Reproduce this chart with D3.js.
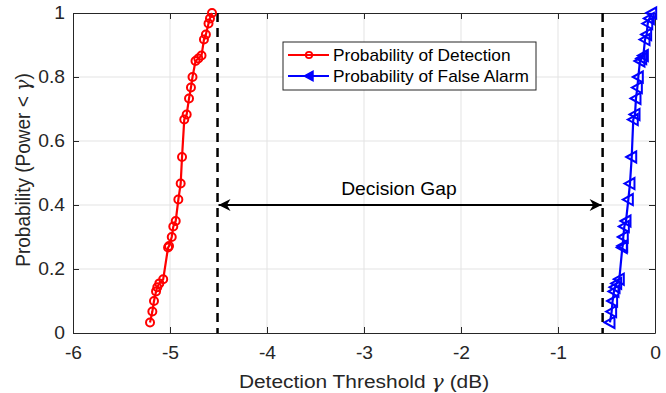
<!DOCTYPE html>
<html>
<head>
<meta charset="utf-8">
<script src="https://cdn.jsdelivr.net/npm/d3@7"></script>
<style>
  html, body { margin: 0; padding: 0; background: #fff; }
  svg { display: block; font-family: "Liberation Sans", Arial, Helvetica, sans-serif; }
</style>
</head>
<body>
<svg id="chart" width="666" height="393"></svg>
<script>
// Empirical CDF levels shared by both curves
const probLevels = [0.033, 0.067, 0.100, 0.130, 0.143, 0.155, 0.168, 0.267, 0.272, 0.300,
  0.333, 0.350, 0.417, 0.467, 0.550, 0.667, 0.683, 0.733, 0.767, 0.800,
  0.850, 0.858, 0.867, 0.917, 0.933, 0.967, 0.983, 1.000];

// Sorted received-power thresholds (dB) for each hypothesis
const detectionThresholds = [-5.206, -5.182, -5.165, -5.144, -5.131, -5.110, -5.070, -5.020, -5.010, -4.982,
  -4.966, -4.941, -4.914, -4.890, -4.876, -4.853, -4.828, -4.804, -4.784, -4.768,
  -4.737, -4.708, -4.675, -4.650, -4.630, -4.603, -4.588, -4.567];
const falseAlarmThresholds = [-0.464, -0.447, -0.437, -0.423, -0.412, -0.395, -0.368, -0.337, -0.333, -0.327,
  -0.316, -0.299, -0.275, -0.258, -0.240, -0.224, -0.206, -0.196, -0.182, -0.172,
  -0.155, -0.137, -0.120, -0.103, -0.086, -0.075, -0.058, -0.034];

// Decision boundaries and gap annotation
const gapBounds = [-4.51, -0.54];
const gapLevel = 0.4;
const gapLabel = "Decision Gap";

const xTicks = [-6, -5, -4, -3, -2, -1, 0];
const yTicks = [0, 0.2, 0.4, 0.6, 0.8, 1];
const seriesNames = ["Probability of Detection", "Probability of False Alarm"];

const margin = { left: 73, right: 11, top: 13, bottom: 60 };
const W = 666, H = 393;
const svg = d3.select("#chart");
const ink = "#262626";
const SX = 1.1; // horizontal glyph stretch used for all text

// widen a text element about its own anchor point
function stretch(sel) {
  sel.each(function () {
    const t = d3.select(this);
    const ax = +(t.attr("x") || 0);
    t.attr("transform", `translate(${ax},0) scale(${SX},1) translate(${-ax},0)`);
  });
}
function label(parent, px, py, str, size, anchor, color) {
  const g = parent.append("g").attr("transform", `translate(${px},${py}) scale(${SX},1)`);
  return g.append("text").attr("text-anchor", anchor).attr("font-size", size)
    .attr("fill", color).text(str);
}

const x = d3.scaleLinear().domain([-6, 0]).range([margin.left, W - margin.right]);
const y = d3.scaleLinear().domain([0, 1]).range([H - margin.bottom, margin.top]);

// grid
const grid = svg.append("g");
grid.selectAll(".gx").data(xTicks.slice(1, -1)).join("line")
  .attr("x1", d => x(d)).attr("x2", d => x(d))
  .attr("y1", y(0)).attr("y2", y(1))
  .attr("stroke", "#e3e3e3").attr("stroke-width", 1);
grid.selectAll(".gy").data(yTicks.slice(1, -1)).join("line")
  .attr("y1", d => y(d)).attr("y2", d => y(d))
  .attr("x1", x(-6)).attr("x2", x(0))
  .attr("stroke", "#e3e3e3").attr("stroke-width", 1);

// axes with inward ticks, mirrored on top/right
const tickLen = 6;
const axB = svg.append("g").attr("transform", `translate(0,${y(0)})`)
  .call(d3.axisBottom(x).tickValues(xTicks).tickSizeInner(-tickLen).tickSizeOuter(0).tickPadding(14)
    .tickFormat(d => d === 0 ? "0" : "-" + Math.abs(d)));
const axL = svg.append("g").attr("transform", `translate(${x(-6)},0)`)
  .call(d3.axisLeft(y).tickValues(yTicks).tickSizeInner(-tickLen).tickSizeOuter(0).tickPadding(8)
    .tickFormat(d => String(+d.toFixed(1))));
const axT = svg.append("g").attr("transform", `translate(0,${y(1)})`)
  .call(d3.axisTop(x).tickValues(xTicks).tickSizeInner(-tickLen).tickSizeOuter(0).tickFormat(""));
const axR = svg.append("g").attr("transform", `translate(${x(0)},0)`)
  .call(d3.axisRight(y).tickValues(yTicks).tickSizeInner(-tickLen).tickSizeOuter(0).tickFormat(""));
[axB, axL, axT, axR].forEach(a => {
  a.select(".domain").attr("stroke", ink).attr("stroke-width", 1);
  a.selectAll(".tick line").attr("stroke", ink);
  a.selectAll(".tick text").attr("fill", ink).attr("font-size", 17.5)
    .attr("font-family", "'Liberation Sans', Arial, sans-serif");
});
axB.selectAll(".tick text").call(stretch);
axL.selectAll(".tick text").call(stretch);

// axis titles
label(svg, x(-3), 388, "", 19, "middle", ink)
  .call(t => {
    t.append("tspan").text("Detection Threshold ");
    t.append("tspan").attr("font-family", "'DejaVu Serif', serif").attr("font-style", "italic").text("γ");
    t.append("tspan").text(" (dB)");
  });
svg.append("text").attr("transform", `translate(30,${y(0.5) - 3}) rotate(-90) scale(1,${SX})`)
  .attr("text-anchor", "middle").attr("font-size", 19).attr("fill", ink)
  .call(t => {
    t.append("tspan").text("Probability (Power < ");
    t.append("tspan").attr("font-family", "'DejaVu Serif', serif").attr("font-style", "italic").text("γ");
    t.append("tspan").text(")");
  });

// decision boundaries
svg.selectAll(".bound").data(gapBounds).join("line")
  .attr("x1", d => x(d)).attr("x2", d => x(d))
  .attr("y1", y(1)).attr("y2", y(0))
  .attr("stroke", "#000").attr("stroke-width", 2.5).attr("stroke-dasharray", "9,6");

// double-headed gap arrow
const defs = svg.append("defs");
["start", "end"].forEach(k => {
  defs.append("marker").attr("id", "arrow-" + k)
    .attr("viewBox", "0 0 10 10").attr("refX", 10).attr("refY", 5)
    .attr("markerWidth", 14).attr("markerHeight", 12).attr("markerUnits", "userSpaceOnUse")
    .attr("orient", k === "start" ? "auto-start-reverse" : "auto")
    .append("path").attr("d", "M0,0 L10,5 L0,10 L3,5 Z").attr("fill", "#000");
});
svg.append("line")
  .attr("x1", x(gapBounds[0]) + 1).attr("x2", x(gapBounds[1]) - 1)
  .attr("y1", y(gapLevel)).attr("y2", y(gapLevel))
  .attr("stroke", "#000").attr("stroke-width", 2)
  .attr("marker-start", "url(#arrow-start)").attr("marker-end", "url(#arrow-end)");
label(svg, x(-2.64), y(0.43), gapLabel, 17.5, "middle", "#000");

// curves
const line = d3.line().x(d => x(d[0])).y(d => y(d[1]));
const detPts = detectionThresholds.map((v, i) => [v, probLevels[i]]);
const faPts = falseAlarmThresholds.map((v, i) => [v, probLevels[i]]);

svg.append("path").datum(detPts).attr("d", line)
  .attr("fill", "none").attr("stroke", "#ff0000").attr("stroke-width", 2.2);
svg.selectAll(".det").data(detPts).join("circle")
  .attr("cx", d => x(d[0])).attr("cy", d => y(d[1])).attr("r", 4)
  .attr("fill", "none").attr("stroke", "#ff0000").attr("stroke-width", 2);

const tri = "M-5.5,0 L4.5,-5.5 L4.5,5.5 Z";
svg.append("path").datum(faPts).attr("d", line)
  .attr("fill", "none").attr("stroke", "#0000ff").attr("stroke-width", 2.2);
svg.selectAll(".fa").data(faPts).join("path")
  .attr("transform", d => `translate(${x(d[0])},${y(d[1])})`).attr("d", tri)
  .attr("fill", "none").attr("stroke", "#0000ff").attr("stroke-width", 2);

// legend
const lg = svg.append("g").attr("transform", "translate(283,42)");
lg.append("rect").attr("width", 253).attr("height", 48)
  .attr("fill", "#fff").attr("stroke", ink).attr("stroke-width", 1);
const rows = [
  { name: seriesNames[0], color: "#ff0000", mark: "circle" },
  { name: seriesNames[1], color: "#0000ff", mark: "tri" }
];
rows.forEach((r, i) => {
  const cy = 13 + i * 21;
  lg.append("line").attr("x1", 5).attr("x2", 46).attr("y1", cy).attr("y2", cy)
    .attr("stroke", r.color).attr("stroke-width", 2.2);
  if (r.mark === "circle") {
    lg.append("circle").attr("cx", 26).attr("cy", cy).attr("r", 3.2)
      .attr("fill", "none").attr("stroke", r.color).attr("stroke-width", 1.8);
  } else {
    lg.append("path").attr("transform", `translate(26,${cy}) scale(0.9)`).attr("d", tri)
      .attr("fill", r.color).attr("stroke", r.color).attr("stroke-width", 1.5);
  }
  label(lg, 50, cy + 5.5, r.name, 15.7, "start", "#000");
});
</script>
</body>
</html>
